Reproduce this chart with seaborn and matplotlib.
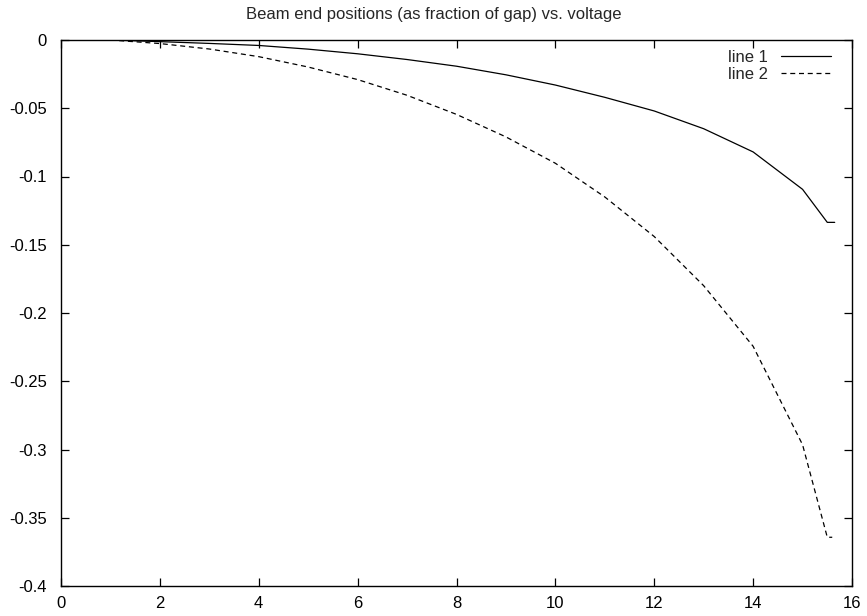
import matplotlib
matplotlib.use("Agg")
import matplotlib.pyplot as plt
import seaborn as sns
import pandas as pd

x_line1 = [1, 2, 3, 4, 5, 6, 7, 8, 9, 10, 11, 12, 13, 14, 15, 15.5, 15.65]
y_line1 = [0.0, -0.0012, -0.0025, -0.0040, -0.0067, -0.0101, -0.0143, -0.0192, -0.0255, -0.0330,
           -0.0420, -0.0520, -0.0650, -0.0820, -0.1094, -0.1336, -0.1336]
x_line2 = [1, 2, 3, 4, 5, 6, 7, 8, 9, 10, 11, 12, 13, 14, 15, 15.5, 15.6]
y_line2 = [0.0, -0.0026, -0.0066, -0.0122, -0.0198, -0.0290, -0.0405, -0.0545, -0.0710, -0.0903,
           -0.1150, -0.1440, -0.1800, -0.2244, -0.2965, -0.3643, -0.3643]
series_names = ["line 1", "line 2"]
x_ticks = [0, 2, 4, 6, 8, 10, 12, 14, 16]
y_ticks = [0, -0.05, -0.1, -0.15, -0.2, -0.25, -0.3, -0.35, -0.4]
y_tick_labels = ["0", "-0.05", "-0.1", "-0.15", "-0.2", "-0.25", "-0.3", "-0.35", "-0.4"]
title = "Beam end positions (as fraction of gap) vs. voltage"

sns.set_style("white")
plt.rcParams["font.family"] = ["Liberation Sans", "DejaVu Sans"]

df = pd.concat([
    pd.DataFrame({"x": x_line1, "y": y_line1, "series": series_names[0]}),
    pd.DataFrame({"x": x_line2, "y": y_line2, "series": series_names[1]}),
])

fig = plt.figure(figsize=(8.67, 6.16), dpi=100)
ax = fig.add_axes([61 / 867, 1 - 586 / 616, (852 - 61) / 867, (586 - 40) / 616])

sns.lineplot(data=df, x="x", y="y", style="series", dashes={"line 1": "", "line 2": (4, 3)},
             color="black", linewidth=0.9, ax=ax, sort=False, estimator=None)

ax.set_xlim(0, 16)
ax.set_ylim(-0.4, 0)
ax.set_xticks(x_ticks)
ax.set_xticklabels([str(t) for t in x_ticks])
ax.set_yticks(y_ticks)
ax.set_yticklabels(y_tick_labels)
ax.tick_params(direction="in", length=6, width=0.9, top=True, right=True,
               labelsize=12, colors="black", bottom=True, left=True)
ax.tick_params(axis="y", pad=10)
ax.tick_params(axis="x", pad=7)
for s in ax.spines.values():
    s.set_color("black")
    s.set_linewidth(1.0)
ax.set_xlabel("")
ax.set_ylabel("")
ax.set_title(title, fontsize=12, pad=15, x=(433.5 - 61) / 791)

leg = ax.legend(loc="upper right", frameon=False, markerfirst=False, fontsize=12,
                handlelength=3.0, handletextpad=0.8, borderaxespad=0.5, labelspacing=0.15,
                bbox_to_anchor=(0.993, 1.010))
for t in leg.get_texts():
    t.set_ha("right")

fig.savefig("out.png", dpi=100, facecolor="white")
